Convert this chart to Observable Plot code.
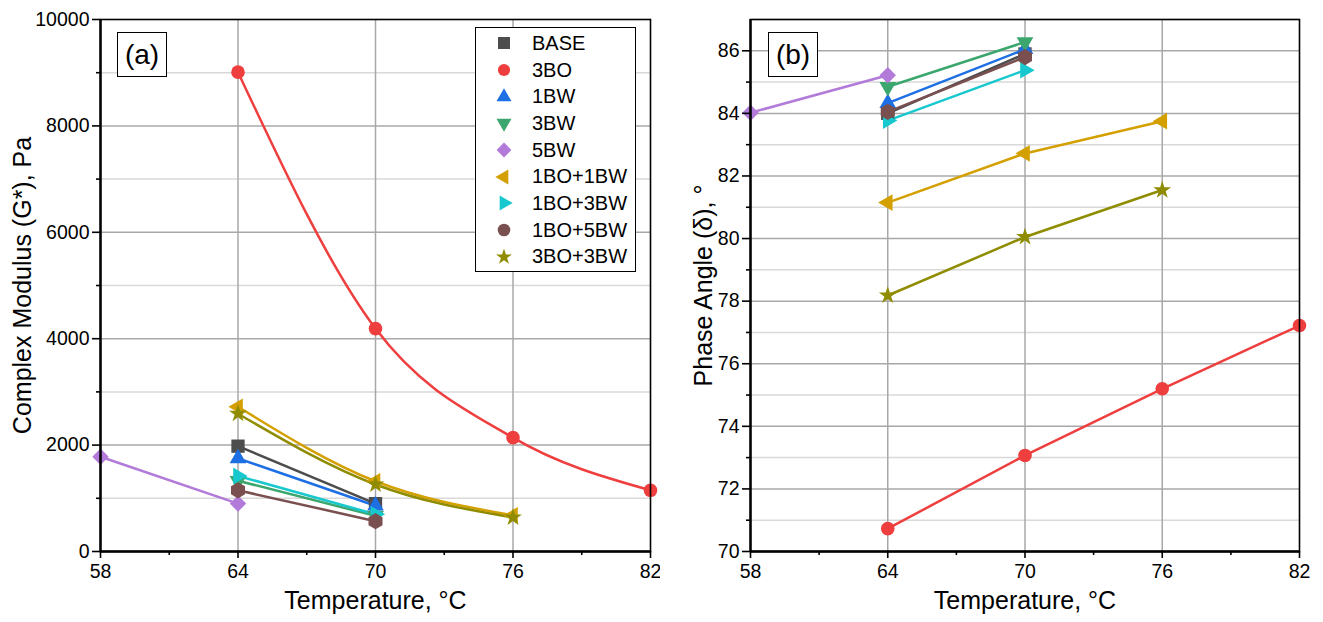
<!DOCTYPE html>
<html><head><meta charset="utf-8">
<script src="https://cdn.jsdelivr.net/npm/d3@7"></script>
<script src="https://cdn.jsdelivr.net/npm/@observablehq/plot@0.6"></script>
<style>
body{margin:0;background:#fff;font-family:"Liberation Sans",Arial,sans-serif;}
#wrap{position:relative;width:1323px;height:622px;overflow:hidden;}
.panel{position:absolute;top:0;}
.tag{position:absolute;border:1px solid #000;background:#fff;font-size:28px;line-height:43px;text-align:center;width:48px;height:43px;}
.legend{position:absolute;border:1px solid #000;background:#fff;left:475px;top:27px;width:161px;height:245px;box-sizing:border-box;padding-top:2px;}
.legend .row{height:26.7px;display:flex;align-items:center;font-size:20px;}
.legend svg{margin-left:16px;margin-right:16px;}
</style></head><body><div id="wrap"></div>
<script>
// ---- data ----
const series = ["BASE","3BO","1BW","3BW","5BW","1BO+1BW","1BO+3BW","1BO+5BW","3BO+3BW"];
const colors = ["#4d4d4d","#ef3e3e","#1d6fe3","#3ba66d","#b27ad9","#d4a000","#17c8cf","#7a4f4f","#8f8c00"];
const symbols = ["square","circle","triangle","triangle","diamond2","triangle","triangle","hexagon","star"];
const symbolR = [7.5,6.8,6.2,6.2,7.4,6.2,6.2,7,5.6];
const rotations = [0,0,0,180,0,-90,90,0,0];
const temperature = [
  [64,70],[64,70,76,82],[64,70],[64,70],[58,64],[64,70,76],[64,70],[64,70],[64,70,76]
];
const modulus = [
  [1980,900],[9010,4190,2140,1150],[1750,860],[1330,670],[1780,900],
  [2720,1320,680],[1420,700],[1150,570],[2590,1260,640]
];
const phase = [
  [84.0,85.9],[70.73,73.07,75.2,77.22],[84.33,86.05],[84.85,86.28],[84.02,85.22],
  [81.15,82.72,83.75],[83.77,85.38],[84.05,85.8],[78.18,80.05,81.55]
];
const xMajor = [58,64,70,76,82];
const xMinor = [61,67,73,79];
const yMajorA = [0,2000,4000,6000,8000,10000];
const yMinorA = [1000,3000,5000,7000,9000];
const yMajorB = [70,72,74,76,78,80,82,84,86];
const yMinorB = [71,73,75,77,79,81,83,85,87];

// build tables
const rowsA = [], rowsB = [];
series.forEach((s,i)=>{
  temperature[i].forEach((t,j)=>{
    rowsA.push({s, i, t, v: modulus[i][j]});
    rowsB.push({s, i, t, v: phase[i][j]});
  });
});

const font = '"Liberation Sans", Arial, sans-serif';
const fmt = d3.format("d");

function panel(rows, opts){
  const marks = [
    Plot.gridY(opts.yMinor, {stroke:"#d9d9d9", strokeOpacity:1, strokeWidth:1.5}),
    Plot.gridY(opts.yMajor.filter(d=>d!==opts.ydom[0] && d!==opts.ydom[1]), {stroke:"#a8a8a8", strokeOpacity:1, strokeWidth:1.5}),
    Plot.gridX([64,70,76], {stroke:"#a8a8a8", strokeOpacity:1, strokeWidth:1.5}),
  ];
  series.forEach((s,i)=>{
    const data = rows.filter(d=>d.i===i);
    marks.push(Plot.line(data, {x:"t", y:"v", stroke: colors[i], strokeWidth:2.5,
      curve: (opts.smooth && data.length>2) ? "monotone-x" : "linear"}));
  });
  series.forEach((s,i)=>{
    const data = rows.filter(d=>d.i===i);
    marks.push(Plot.dot(data, {x:"t", y:"v", fill: colors[i], stroke:"none",
      symbol: symbols[i], rotate: rotations[i], r: symbolR[i]}));
  });
  marks.push(
    Plot.axisX(xMajor, {tickSize:7, tickPadding:6, strokeWidth:1.6, fontSize:19.5, label:null, tickFormat:fmt}),
    Plot.axisX(xMinor, {tickSize:4, strokeWidth:1.6, tickFormat:()=>"", label:null}),
    Plot.axisY(opts.yMajor, {tickSize:8, tickPadding:3, strokeWidth:1.6, fontSize:19.5, label:null, tickFormat:fmt}),
    Plot.axisY(opts.yMinor.filter(d=>d<opts.ydom[1]), {tickSize:4, strokeWidth:1.6, tickFormat:()=>"", label:null}),
    Plot.frame({stroke:"#000", strokeWidth:1.6}),
    Plot.ruleX([opts.xdom[0]], {stroke:"#000", strokeWidth:2.4}),
    Plot.ruleY([opts.ydom[0]], {stroke:"#000", strokeWidth:2.4}),
    Plot.text([opts.xLabel], {frameAnchor:"bottom", textAnchor:"middle", dy:57, fontSize:25, fill:"#000"}),
    Plot.text([opts.yLabel], {frameAnchor:"left", textAnchor:"middle", dx:opts.yDx, rotate:-90, fontSize:25, fill:"#000"})
  );
  return Plot.plot({
    width: opts.width, height: 622,
    marginLeft: opts.ml, marginRight: opts.mr, marginTop: 19, marginBottom: 71,
    x: {domain: opts.xdom}, y: {domain: opts.ydom},
    style: {fontFamily: font, fontSize: "19.5px", color:"#000", background:"#fff", overflow:"visible"},
    marks
  });
}

const wrap = document.getElementById("wrap");
const pa = panel(rowsA, {width:660, ml:100, mr:10, xdom:[58,82], ydom:[0,10000],
  yMajor:yMajorA, yMinor:yMinorA, smooth:true, xLabel:"Temperature, °C",
  yLabel:"Complex Modulus (G*), Pa", yDx:-78});
pa.classList.add("panel"); pa.style.left = "0px";
wrap.appendChild(pa);
const pb = panel(rowsB, {width:663, ml:90, mr:24, xdom:[58,82], ydom:[70,87],
  yMajor:yMajorB, yMinor:yMinorB, smooth:false, xLabel:"Temperature, °C",
  yLabel:"Phase Angle (δ), °", yDx:-47});
pb.classList.add("panel"); pb.style.left = "660px";
wrap.appendChild(pb);

// panel tags
[["(a)",117],["(b)",768]].forEach(([t,x])=>{
  const d = document.createElement("div"); d.className="tag"; d.textContent=t;
  d.style.left = x+"px"; d.style.top = "32px"; wrap.appendChild(d);
});

// legend
const lg = document.createElement("div"); lg.className="legend";
series.forEach((s,i)=>{
  const row = document.createElement("div"); row.className="row";
  const r = symbolR[i]*0.9;
  const name = symbols[i][0].toUpperCase()+symbols[i].slice(1);
  const sym = d3.symbol(d3["symbol"+name], Math.PI*r*r)();
  row.innerHTML = `<svg width="24" height="24" viewBox="-12 -12 24 24"><path d="${sym}" fill="${colors[i]}" transform="rotate(${rotations[i]})"/></svg><span>${s}</span>`;
  lg.appendChild(row);
});
wrap.appendChild(lg);
</script></body></html>
